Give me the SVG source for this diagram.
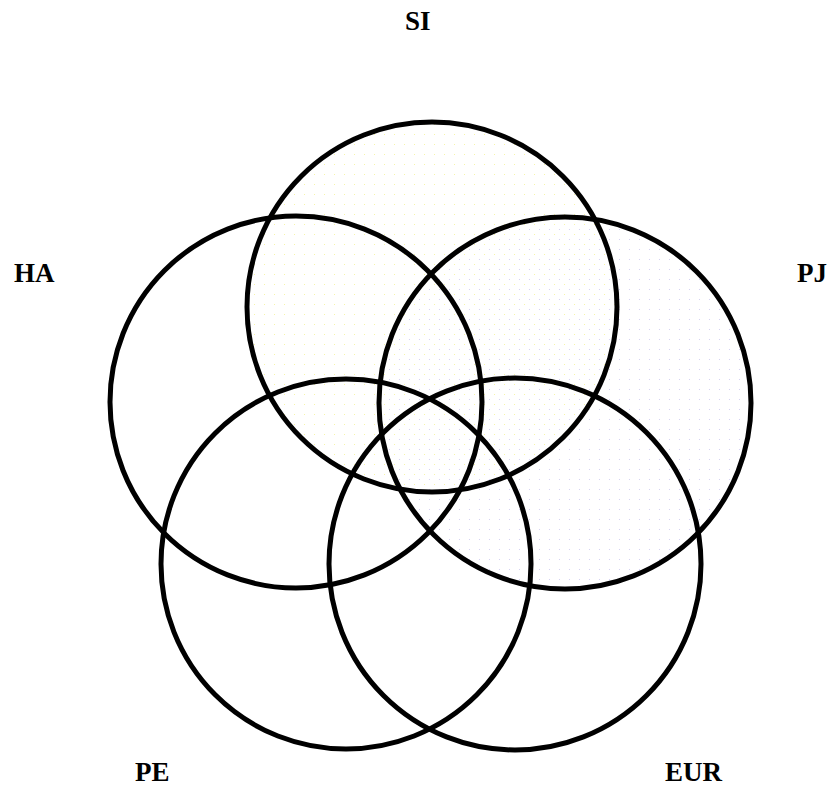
<svg xmlns="http://www.w3.org/2000/svg" width="833" height="786" viewBox="0 0 833 786">
<style>
.c{fill:none;stroke:#000;stroke-width:5}
.t{font-family:"Liberation Serif","Times New Roman",serif;font-weight:bold;font-size:27px;fill:#000}
</style>
<defs>
<pattern id="py" width="10" height="10" patternUnits="userSpaceOnUse"><rect x="4" y="4" width="1" height="1" fill="#f6f5a8"/></pattern>
<pattern id="pp" width="10" height="10" patternUnits="userSpaceOnUse"><rect x="9" y="9" width="1" height="1" fill="#d4d0f4"/></pattern>
</defs>
<rect width="833" height="786" fill="#fff"/>
<g id="fills">
<circle cx="432" cy="307" r="185" fill="url(#py)"/>
<circle cx="565" cy="403" r="186" fill="url(#pp)"/>
</g>
<g id="SI"><circle class="c" cx="432" cy="307" r="185"/><text class="t" x="405" y="30">SI</text></g>
<g id="HA"><circle class="c" cx="296" cy="402" r="186"/><text class="t" x="14" y="282">HA</text></g>
<g id="PJ"><circle class="c" cx="565" cy="403" r="186"/><text class="t" x="797" y="282">PJ</text></g>
<g id="PE"><circle class="c" cx="346" cy="564" r="185"/><text class="t" x="135" y="781">PE</text></g>
<g id="EUR"><circle class="c" cx="515" cy="564" r="186"/><text class="t" x="665" y="781">EUR</text></g>
<g id="connectors"></g>
</svg>
